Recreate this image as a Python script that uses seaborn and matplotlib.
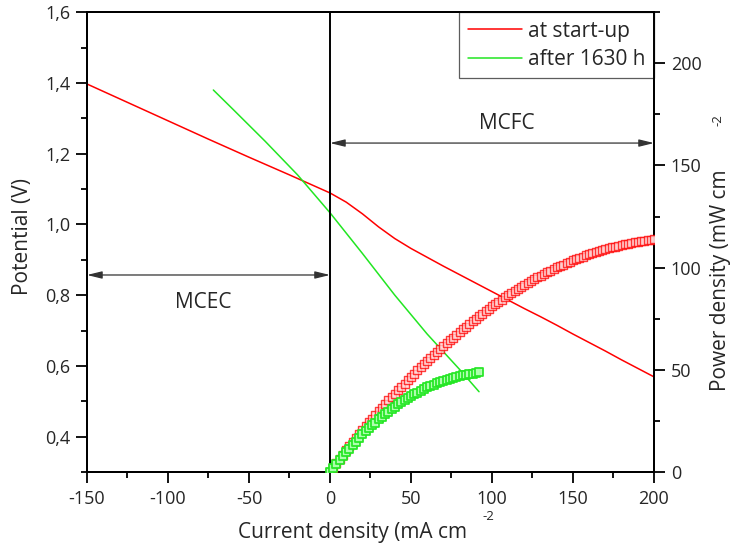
import numpy as np
import matplotlib
matplotlib.use("Agg")
import matplotlib.pyplot as plt
import seaborn as sns
from matplotlib.lines import Line2D
from matplotlib.ticker import MultipleLocator, FuncFormatter

# polarisation curves (potential, V)
start_i = [-150, -125, -100, -75, -50, -25, 0, 10, 20, 30, 40, 50, 60, 70, 80, 90,
           100, 110, 120, 130, 140, 150, 160, 170, 180, 190, 200]
start_v = [1.397, 1.345, 1.293, 1.241, 1.190, 1.140, 1.089, 1.063, 1.030, 0.993, 0.960,
           0.932, 0.907, 0.882, 0.858, 0.834, 0.810, 0.786, 0.762, 0.739, 0.715, 0.690,
           0.666, 0.642, 0.617, 0.593, 0.569]

aged_i = [-72, -60, -40, -20, 0, 20, 40, 60, 80, 92]
aged_v = [1.380, 1.326, 1.235, 1.140, 1.033, 0.918, 0.800, 0.690, 0.590, 0.527]

# power density curves (mW cm-2), one point every 2 mA cm-2
start_pi = np.arange(0, 201, 2)
start_p = [0, 2.1, 4.3, 6.4, 8.5, 10.6, 12.6, 14.6, 16.6, 18.6, 20.6, 22.4, 24.3, 26.1,
           28.0, 29.8, 31.5, 33.2, 35.0, 36.7, 38.4, 40.0, 41.7, 43.3, 45.0, 46.6, 48.2,
           49.7, 51.3, 52.8, 54.4, 55.9, 57.3, 58.8, 60.2, 61.7, 63.1, 64.5, 65.8, 67.2,
           68.6, 69.9, 71.2, 72.5, 73.8, 75.1, 76.3, 77.5, 78.6, 79.8, 81.0, 82.1, 83.2,
           84.3, 85.4, 86.5, 87.5, 88.5, 89.4, 90.4, 91.4, 92.3, 93.3, 94.2, 95.2, 96.1,
           96.9, 97.7, 98.5, 99.3, 100.1, 100.8, 101.5, 102.1, 102.8, 103.5, 104.1, 104.7,
           105.4, 106.0, 106.6, 107.1, 107.6, 108.1, 108.6, 109.1, 109.5, 109.9, 110.3,
           110.7, 111.1, 111.4, 111.7, 112.1, 112.4, 112.7, 112.9, 113.1, 113.4, 113.6,
           113.8]

aged_pi = np.arange(0, 93, 2)
aged_p = [0, 2.0, 3.9, 5.9, 7.8, 9.8, 11.5, 13.2, 14.9, 16.7, 18.4, 19.9, 21.3, 22.8,
          24.2, 25.7, 27.0, 28.2, 29.5, 30.7, 32.0, 33.1, 34.1, 35.2, 36.2, 37.3, 38.1,
          38.9, 39.8, 40.6, 41.4, 42.1, 42.7, 43.4, 44.0, 44.7, 45.2, 45.6, 46.1, 46.5,
          47.0, 47.3, 47.6, 47.9, 48.2, 48.5, 48.7]

RED = "#ff0000"
GREEN = "#22e622"

sns.set_style("ticks")
plt.rcParams["font.family"] = ["Open Sans", "DejaVu Sans"]
plt.rcParams["axes.unicode_minus"] = False

fig = plt.figure(figsize=(7.34, 5.54), dpi=100)
ax = fig.add_axes([0.1185, 0.148, 0.7725, 0.830])
ax2 = ax.twinx()

sns.lineplot(x=start_i, y=start_v, ax=ax, color=RED, lw=1.1, sort=False, estimator=None)
sns.lineplot(x=aged_i, y=aged_v, ax=ax, color=GREEN, lw=1.1, sort=False, estimator=None)

sns.scatterplot(x=start_pi, y=start_p, ax=ax2, marker="s", s=30, color="#ffd8d8",
                edgecolor=RED, linewidth=1.0, alpha=0.75, zorder=3)
sns.scatterplot(x=aged_pi, y=aged_p, ax=ax2, marker="s", s=30, color="#b0ffb0",
                edgecolor=GREEN, linewidth=1.3, alpha=0.95, zorder=3)

ax.set_xlim(-150, 200)
ax.set_ylim(0.3, 1.6)
ax2.set_ylim(0, 225)

ax.axvline(0, color="black", lw=1.4, zorder=2)

ax.xaxis.set_major_locator(MultipleLocator(50))
ax.xaxis.set_minor_locator(MultipleLocator(25))
ax.yaxis.set_minor_locator(MultipleLocator(0.1))
ax.set_yticks([0.4, 0.6, 0.8, 1.0, 1.2, 1.4, 1.6])
ax.yaxis.set_major_formatter(FuncFormatter(lambda v, p: f"{v:.1f}".replace(".", ",")))
ax2.yaxis.set_major_locator(MultipleLocator(50))
ax2.yaxis.set_minor_locator(MultipleLocator(25))

for a in (ax, ax2):
    a.tick_params(which="major", length=8, width=1.3, labelsize=13, direction="out", color="black")
    a.tick_params(which="minor", length=4.5, width=1.3, direction="out", color="black")
    for sp in a.spines.values():
        sp.set_linewidth(1.4)
        sp.set_color("black")
ax.tick_params(axis="y", pad=4)
ax.tick_params(axis="x", pad=5)
ax2.tick_params(axis="y", pad=4)
ax.set_xlabel("")
ax.set_ylabel("")
ax2.set_ylabel("")

# operating mode arrows
arrow_kw = dict(arrowstyle="<|-|>,head_length=0.9,head_width=0.22", color="#333333",
                lw=0.9, shrinkA=0, shrinkB=0)
ax.annotate("", xy=(-150, 0.857), xytext=(0, 0.857), arrowprops=arrow_kw)
ax.annotate("", xy=(0, 1.23), xytext=(200, 1.23), arrowprops=arrow_kw)
ax.text(-78, 0.778, "MCEC", ha="center", va="center", fontsize=15)
ax.text(109, 1.286, "MCFC", ha="center", va="center", fontsize=15)

handles = [Line2D([], [], color=RED, lw=1.1), Line2D([], [], color=GREEN, lw=1.1)]
leg = ax.legend(handles, ["at start-up", "after 1630 h"], loc="upper right", fontsize=15,
                frameon=True, fancybox=False, borderaxespad=0, handlelength=2.6,
                handletextpad=0.3, borderpad=0.4, labelspacing=0.35)
leg.get_frame().set_edgecolor("#333333")
leg.get_frame().set_linewidth(0.9)

fig.text(0.48, 0.029, "Current density (mA cm", ha="center", va="baseline", fontsize=15)
fig.text(0.665, 0.067, "-2", ha="center", va="center", fontsize=9.5)
fig.text(0.03, 0.574, "Potential (V)", ha="center", va="center", rotation=90, fontsize=15)
fig.text(0.982, 0.495, "Power density (mW cm", ha="center", va="center", rotation=90, fontsize=15)
fig.text(0.978, 0.783, "-2", ha="center", va="center", rotation=90, fontsize=9.5)

fig.savefig("out.png", dpi=100)
